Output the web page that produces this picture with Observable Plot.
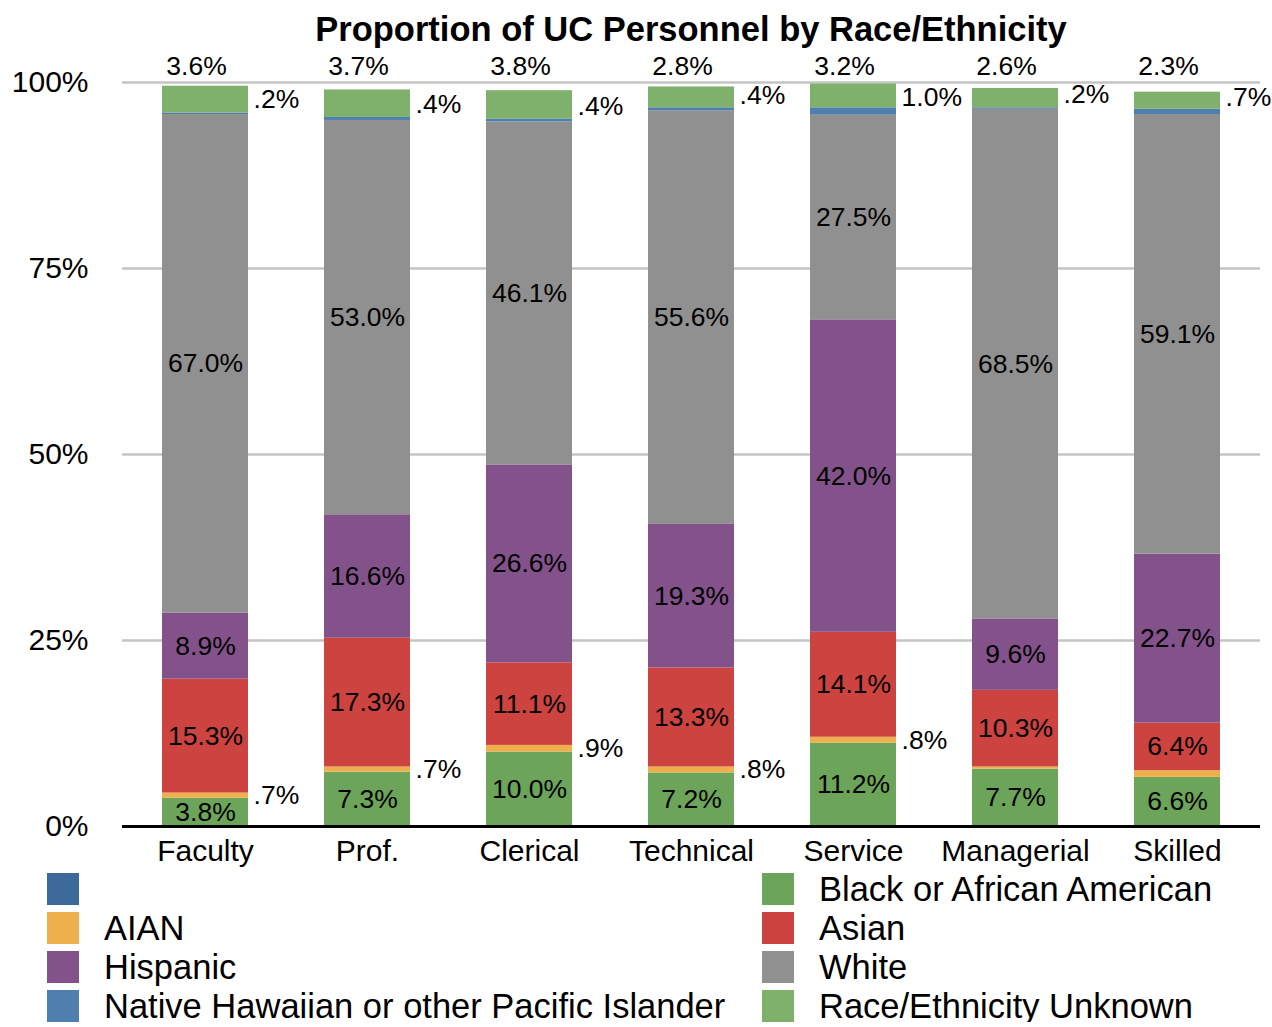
<!DOCTYPE html>
<html>
<head>
<meta charset="utf-8">
<script src="https://cdn.jsdelivr.net/npm/d3@7"></script>
<script src="https://cdn.jsdelivr.net/npm/@observablehq/plot@0.6"></script>
<style>
  body { margin: 0; background: #fff; font-family: "Liberation Sans", Arial, Helvetica, sans-serif; }
  #title { height: 52px; line-height: 58px; width: 1138px; margin-left: 122px; text-align: center; font-weight: bold; font-size: 34.5px; color: #000; overflow: visible; }
  #legend { display: grid; grid-template-columns: 715px 500px; margin-left: 47px; row-gap: 7px; margin-top: -1px; }
  .item { display: flex; align-items: center; height: 32px; font-size: 34.5px; line-height: 1; color: #000; white-space: nowrap; }
  .sw { width: 32px; height: 32px; margin-right: 25px; flex: none; }
</style>
</head>
<body>
<div id="title">Proportion of UC Personnel by Race/Ethnicity</div>
<div id="chart"></div>
<div id="legend"></div>
<script>
const categories = ["Faculty", "Prof.", "Clerical", "Technical", "Service", "Managerial", "Skilled"];
const seriesNames = ["", "Black or African American", "AIAN", "Asian", "Hispanic", "White", "Native Hawaiian or other Pacific Islander", "Race/Ethnicity Unknown"];
const seriesColors = ["#3b6a9b", "#6ca45a", "#eeb04c", "#cc4340", "#83528a", "#8f908f", "#4f7fae", "#7fb16c"];
const blank = [0, 0, 0, 0, 0, 0, 0];
const black = [3.8, 7.3, 10.0, 7.2, 11.2, 7.7, 6.6];
const aian = [0.7, 0.7, 0.9, 0.8, 0.8, 0.3, 0.9];
const asian = [15.3, 17.3, 11.1, 13.3, 14.1, 10.3, 6.4];
const hispanic = [8.9, 16.6, 26.6, 19.3, 42.0, 9.6, 22.7];
const white = [67.0, 53.0, 46.1, 55.6, 27.5, 68.5, 59.1];
const nhpi = [0.2, 0.4, 0.4, 0.4, 1.0, 0.2, 0.7];
const unknown = [3.6, 3.7, 3.8, 2.8, 3.2, 2.6, 2.3];
const aianLabelShown = [true, true, true, true, true, false, false];
const yTicks = [0, 25, 50, 75, 100];

const seriesValues = [blank, black, aian, asian, hispanic, white, nhpi, unknown];
// label placement per series: "in" inside bar, "right" beside bar, "top" above bar
const labelPlace = [null, "in", "right", "in", "in", "in", "rightTop", "top"];

const fmt = v => d3.format(".1f")(v).replace(/^0/, "") + "%";

const rows = [];
categories.forEach((cat, i) => {
  let acc = 0;
  seriesValues.forEach((vals, s) => {
    const v = vals[i];
    rows.push({cat, race: seriesNames[s], value: v, y1: acc, y2: acc + v, mid: acc + v / 2,
               place: labelPlace[s], label: fmt(v), show: s === 2 ? aianLabelShown[i] : true});
    acc += v;
  });
});

const W = 1272, mL = 122, mR = 12;
const padInner = 0.47;
const bw = (W - mL - mR) / categories.length * (1 - padInner);
const font = "\"Liberation Sans\", Arial, Helvetica, sans-serif";
const lf = 26.5;

const chart = Plot.plot({
  width: W,
  height: 822,
  marginLeft: mL,
  marginRight: mR,
  marginTop: 30,
  marginBottom: 48,
  style: {fontFamily: font, background: "#fff", color: "#000", overflow: "visible"},
  x: {type: "band", domain: categories, paddingInner: padInner, paddingOuter: padInner / 2, label: null},
  y: {domain: [0, 100], label: null},
  color: {domain: seriesNames, range: seriesColors},
  marks: [
    Plot.ruleY(yTicks.filter(d => d > 0), {stroke: "#c4c4c4", strokeWidth: 2.5}),
    Plot.rectY(rows.filter(d => d.value > 0), {x: "cat", y1: "y1", y2: "y2", fill: "race"}),
    Plot.ruleY([0], {stroke: "#000", strokeWidth: 3}),
    Plot.axisY({ticks: yTicks, tickFormat: d => d + "%", tickSize: 0, tickPadding: 34, fontSize: 30, label: null}),
    Plot.axisX({tickSize: 0, tickPadding: 13, fontSize: 30, label: null}),
    Plot.text(rows.filter(d => d.place === "in"), {x: "cat", y: "mid", text: "label", fontSize: lf, fill: "#000"}),
    Plot.text(rows.filter(d => d.place === "right" && d.show), {x: "cat", y: "mid", text: "label", fontSize: lf, fill: "#000", textAnchor: "start", dx: bw / 2 + 5}),
    Plot.text(rows.filter(d => d.place === "rightTop"), {x: "cat", y: "mid", text: "label", fontSize: lf, fill: "#000", textAnchor: "start", dx: bw / 2 + 5, dy: -14}),
    Plot.text(rows.filter(d => d.place === "top"), {x: "cat", frameAnchor: "top", lineAnchor: "middle", text: "label", fontSize: lf, fill: "#000", dx: -9, dy: -16})
  ]
});
document.getElementById("chart").appendChild(chart);

const legend = document.getElementById("legend");
// two columns, filled row by row
seriesNames.forEach((name, i) => {
  const item = document.createElement("div");
  item.className = "item";
  const sw = document.createElement("div");
  sw.className = "sw";
  sw.style.background = seriesColors[i];
  const t = document.createElement("span");
  t.textContent = name;
  item.appendChild(sw);
  item.appendChild(t);
  legend.appendChild(item);
});
</script>
</body>
</html>
